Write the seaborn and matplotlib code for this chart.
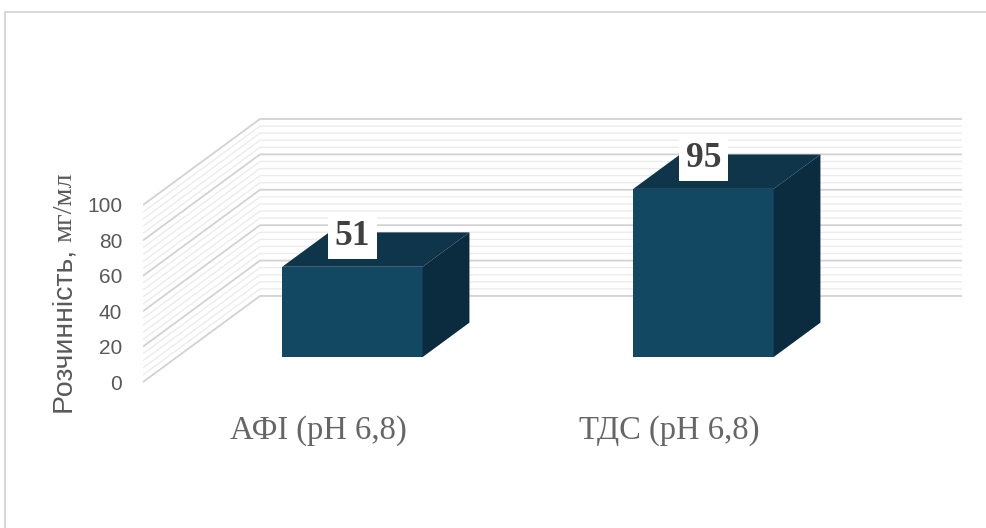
import matplotlib
matplotlib.use("Agg")
import matplotlib.pyplot as plt
import seaborn as sns
from matplotlib.patches import Polygon, Rectangle

# data
categories = ["АФІ (pH 6,8)", "ТДС (pH 6,8)"]
values = [51, 95]
y_ticks = [0, 20, 40, 60, 80, 100]
y_label_sans = "Розчинність, "
y_label_serif = "мг/мл"

front_color = "#124862"
top_color = "#0e3549"
side_color = "#0b2b3e"
text_gray = "#595959"

sns.set_theme(style="white")
plt.rcParams["font.family"] = ["Liberation Sans", "DejaVu Sans"]

W, H = 986, 528
fig = plt.figure(figsize=(W / 100, H / 100), dpi=100)

# pseudo-3D layout (Excel style oblique view)
px_per_unit = 1.77
px_per_cat = 351
ylo, yhi = -18, 160
xlo, xhi = -0.5, 1.85
zero_px = 382          # pixel row of value 0 on the front edge
left_px = 143

bottom_px = zero_px - ylo * px_per_unit
top_px = zero_px - yhi * px_per_unit
ax = fig.add_axes([left_px / W, (H - bottom_px) / H,
                   (xhi - xlo) * px_per_cat / W, (bottom_px - top_px) / H])

DX, DY = 1 / 3, 48.6      # depth of the walls in data units
f_front, f_back = 0.29, 0.69   # bar depth range (fraction of wall depth)

# walls: back + side gridlines
for v in range(0, 101, 4):
    major = v % 20 == 0
    ax.plot([xlo, xlo + DX, 1.5 + DX], [v, v + DY, v + DY],
            color="#d2d2d2" if major else "#ececec",
            lw=1.3 if major else 1.0, zorder=1, solid_capstyle="butt")

sns.barplot(x=categories, y=values, color=front_color, saturation=1,
            width=0.4, ax=ax, zorder=3, linewidth=0)

ddx = (f_back - f_front) * DX
ddy = (f_back - f_front) * DY
for patch, val in zip(ax.patches, values):
    x0 = patch.get_x() + f_front * DX
    y0 = f_front * DY
    w = patch.get_width()
    h = patch.get_height()
    patch.set_x(x0)
    patch.set_y(y0)
    top = Polygon([(x0, y0 + h), (x0 + w, y0 + h),
                   (x0 + w + ddx, y0 + h + ddy), (x0 + ddx, y0 + h + ddy)],
                  closed=True, facecolor=top_color, edgecolor="none", zorder=3)
    side = Polygon([(x0 + w, y0), (x0 + w + ddx, y0 + ddy),
                    (x0 + w + ddx, y0 + h + ddy), (x0 + w, y0 + h)],
                   closed=True, facecolor=side_color, edgecolor="none", zorder=3)
    ax.add_patch(top)
    ax.add_patch(side)
    ax.text(x0 + w / 2, y0 + h + 8, str(val), ha="center", va="bottom",
            fontsize=25.5, fontweight="bold", family="Liberation Serif",
            color="#404040", zorder=5,
            bbox=dict(boxstyle="square,pad=0.18", facecolor="white", edgecolor="none"))

ax.set_xlim(xlo, xhi)
ax.set_ylim(ylo, yhi)
ax.set_yticks(y_ticks)
ax.set_xticks(range(len(categories)))
ax.set_xticklabels(categories, family="Liberation Serif", fontsize=23.5, color="#666666")
ax.tick_params(axis="y", length=0, pad=15, labelsize=15, labelcolor=text_gray)
ax.tick_params(axis="x", length=0, pad=1)
ax.set_xlabel("")
ax.set_ylabel("")
for s in ax.spines.values():
    s.set_visible(False)
ax.set_facecolor("none")

# y label with mixed fonts
t1 = fig.text(65 / W, (H - 414) / H, y_label_sans, rotation=90, rotation_mode="anchor",
              ha="left", va="center", fontsize=20.5, color=text_gray)
fig.canvas.draw()
bb = t1.get_window_extent()
fig.text(65 / W, bb.y1 / H, y_label_serif, rotation=90, rotation_mode="anchor",
         ha="left", va="center", fontsize=20.5, color=text_gray, family="Liberation Serif")

# outer frame
fig.patches.append(Rectangle((5 / W, -0.1), 1.2, (H - 12) / H + 0.1,
                             transform=fig.transFigure, fill=False,
                             edgecolor="#d9d9d9", lw=1.5))

fig.savefig("out.png", dpi=100)
